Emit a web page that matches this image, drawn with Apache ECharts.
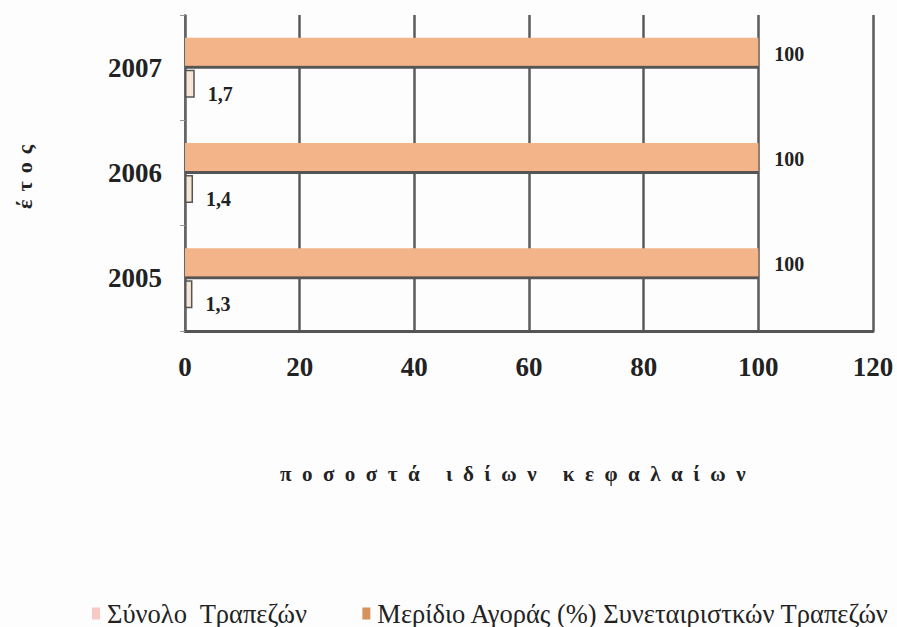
<!DOCTYPE html>
<html><head><meta charset="utf-8">
<script src="https://cdn.jsdelivr.net/npm/echarts@6/dist/echarts.min.js"></script>
<style>
html,body{margin:0;padding:0;background:#fdfdfd;}
#c{width:897px;height:627px;}
</style></head><body><div id="c"></div>
<script>
const categories = ['2005', '2006', '2007'];
const totalBanks = [100, 100, 100];
const coopShare = [1.3, 1.4, 1.7];
const xTicks = [0, 20, 40, 60, 80, 100, 120];
const seriesNames = ['Σύνολο  Τραπεζών', 'Μερίδιο Αγοράς (%) Συνεταιριστκών Τραπεζών'];
const xAxisTitle = 'ποσοστά ιδίων κεφαλαίων';
const yAxisTitle = 'έτος';

const SERIF = '"Liberation Serif","DejaVu Serif",serif';
const chart = echarts.init(document.getElementById('c'), null, {renderer: 'svg'});
chart.setOption({
  backgroundColor: '#fdfdfd',
  animation: false,
  grid: {left: 185, right: 24, top: 15, bottom: 296},
  legend: {
    left: 87, top: 595, width: 3000,
    itemWidth: 8, itemHeight: 12, itemGap: 55,
    icon: 'rect',
    textStyle: {fontFamily: SERIF, fontSize: 26.5, color: '#222', padding: [0, 0, 0, 2]},
    data: [
      {name: seriesNames[0], itemStyle: {color: '#f6c9c4', borderWidth: 0}},
      {name: seriesNames[1], itemStyle: {color: '#d4925c', borderWidth: 0}}
    ]
  },
  xAxis: {
    type: 'value', min: xTicks[0], max: xTicks[xTicks.length - 1], interval: 20,
    name: xAxisTitle, nameLocation: 'middle', nameGap: 132,
    nameTextStyle: {fontFamily: SERIF, fontSize: 21, fontWeight: 'bold', color: '#222', padding: [0, 22, 0, 0]},
    axisLine: {show: true, lineStyle: {color: '#555', width: 3}},
    axisTick: {show: false},
    axisLabel: {fontFamily: SERIF, fontSize: 27, fontWeight: 'bold', color: '#222', margin: 22},
    splitLine: {show: true, lineStyle: {color: '#5a5a5a', width: 2.5}}
  },
  yAxis: {
    type: 'category', data: categories,
    name: yAxisTitle, nameLocation: 'middle', nameGap: 150,
    nameTextStyle: {fontFamily: SERIF, fontSize: 22, fontWeight: 'bold', color: '#222'},
    axisLine: {show: true, lineStyle: {color: '#666', width: 2}},
    axisTick: {show: true, length: 5, lineStyle: {color: '#999'}},
    axisLabel: {fontFamily: SERIF, fontSize: 27, fontWeight: 'bold', color: '#222', margin: 23}
  },
  series: [
    {
      name: seriesNames[0], type: 'bar', data: totalBanks,
      barWidth: 28, barGap: '14%',
      itemStyle: {color: '#f3b48a', shadowColor: '#555', shadowOffsetY: 3, shadowBlur: 0},
      label: {show: true, position: 'right', distance: 16, offset: [0, 2],
        fontFamily: SERIF, fontSize: 20, fontWeight: 'bold', color: '#222'}
    },
    {
      name: seriesNames[1], type: 'bar', data: coopShare,
      barWidth: 28,
      itemStyle: {color: '#f5e6d6', borderColor: '#555', borderWidth: 1.5},
      label: {show: true, position: 'right', distance: 5, offset: [8, 10],
        fontFamily: SERIF, fontSize: 20, fontWeight: 'bold', color: '#222',
        formatter: p => String(p.value).replace('.', ',')}
    }
  ]
});
function spaceTitles() {
  document.querySelectorAll('#c svg text').forEach(t => {
    const s = t.textContent;
    if (s === xAxisTitle) t.style.letterSpacing = '10.5px';
    if (s === yAxisTitle) t.style.letterSpacing = '8px';
  });
}
chart.on('finished', spaceTitles);
spaceTitles();
</script></body></html>
